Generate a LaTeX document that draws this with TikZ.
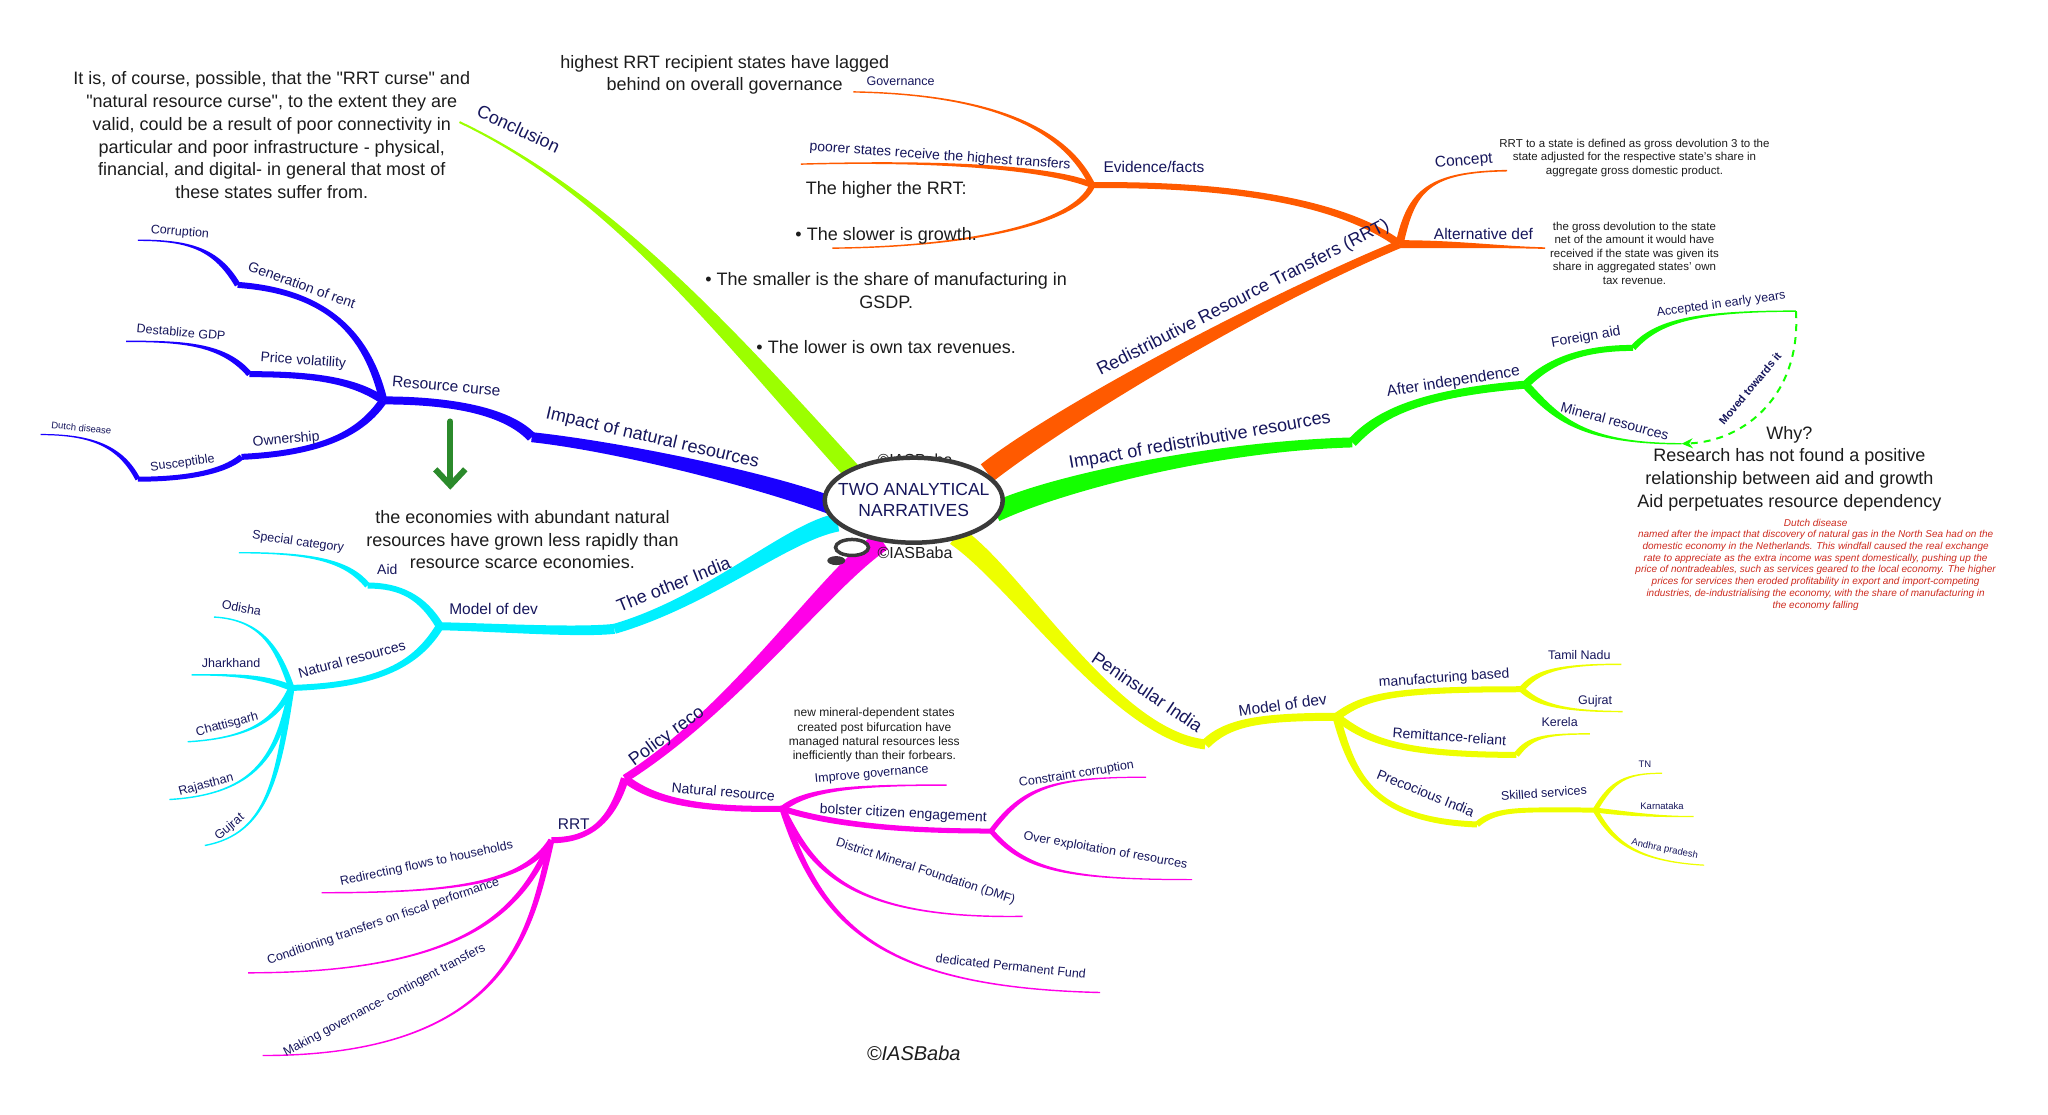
\documentclass[tikz,border=0pt]{standalone}
\usepackage{fontspec}
\setmainfont{Liberation Sans}
\usetikzlibrary{calc,arrows.meta,shapes.geometric}

\definecolor{limeb}{HTML}{9CFF00}
\definecolor{orangeb}{HTML}{FF5A00}
\definecolor{greenb}{HTML}{14FF00}
\definecolor{yellowb}{HTML}{EEFF00}
\definecolor{cyanb}{HTML}{00F0FF}
\definecolor{blueb}{HTML}{1A00FF}
\definecolor{pinkb}{HTML}{FF00E8}
\definecolor{navy}{HTML}{16165C}
\definecolor{ink}{HTML}{1C1C1C}
\definecolor{redtxt}{HTML}{CC2A1E}
\definecolor{arrowgreen}{HTML}{2B8A2B}
\definecolor{rim}{HTML}{3A3A3A}

\newcommand{\mmbranch}[7]{\fill[#1] ($(#2)!#6!90:(#3)$) .. controls ($(#3)!#6!-90:(#2)$) and ($(#4)!#7!90:(#5)$) .. ($(#5)!#7!-90:(#4)$) -- ($(#5)!#7!90:(#4)$) .. controls ($(#4)!#7!-90:(#5)$) and ($(#3)!#6!90:(#2)$) .. ($(#2)!#6!-90:(#3)$) -- cycle;}

\begin{document}
\begin{tikzpicture}[x=1.313pt,y=-1.313pt,
  lA/.style={text=navy,inner sep=1pt,font=\fontsize{18}{21}\selectfont},
  lB/.style={text=navy,inner sep=1pt,font=\fontsize{15.5}{18}\selectfont},
  lC/.style={text=navy,inner sep=1pt,font=\fontsize{14}{16}\selectfont},
  lD/.style={text=navy,inner sep=1pt,font=\fontsize{12.5}{15}\selectfont},
  lE/.style={text=navy,inner sep=1pt,font=\fontsize{9.5}{11}\selectfont},
  txt/.style={text=ink,align=center,inner sep=0pt,font=\fontsize{18}{22.7}\selectfont},
  small/.style={text=ink,align=center,inner sep=0pt,font=\fontsize{11.5}{13.5}\selectfont}]
\useasboundingbox (0,0) rectangle (1560,849);

\coordinate (cL) at (655,366);
\coordinate (concl) at (350,93);
\coordinate (cO) at (752,360);
\coordinate (rrt) at (1066,186);
\coordinate (concept) at (1148,130);
\coordinate (altdef) at (1177,189);
\coordinate (evid) at (832,141);
\coordinate (gov) at (650,70);
\coordinate (poorer) at (610,125);
\coordinate (slow) at (634,189);
\coordinate (cG) at (758,390);
\coordinate (impred) at (1030,337);
\coordinate (indep) at (1162,293);
\coordinate (faid) at (1244,265);
\coordinate (early) at (1368,237);
\coordinate (mineral) at (1281,338);
\coordinate (cY) at (728,408);
\coordinate (pen) at (918,567);
\coordinate (pmod) at (1018,546);
\coordinate (mfg) at (1159,525);
\coordinate (tn1) at (1235,506);
\coordinate (guj1) at (1236,542);
\coordinate (remit) at (1155,575);
\coordinate (kerela) at (1211,559);
\coordinate (preco) at (1125,628);
\coordinate (skill) at (1215,617);
\coordinate (tn2) at (1266,589);
\coordinate (ka) at (1290,622);
\coordinate (ap) at (1298,659);
\coordinate (cC) at (638,398);
\coordinate (oth) at (468,479);
\coordinate (cmod) at (335,477);
\coordinate (aid) at (280,446);
\coordinate (spec) at (182,421);
\coordinate (cnat) at (222,524);
\coordinate (odisha) at (163,470);
\coordinate (jhar) at (146,514);
\coordinate (chat) at (143,565);
\coordinate (raj) at (129,609);
\coordinate (guj2) at (156,644);
\coordinate (cB) at (636,386);
\coordinate (impnat) at (405,333);
\coordinate (rcurse) at (292,305);
\coordinate (genr) at (181,217);
\coordinate (corr) at (105,183);
\coordinate (pvol) at (190,285);
\coordinate (gdp) at (96,260);
\coordinate (own) at (184,348);
\coordinate (susc) at (105,365);
\coordinate (dutch) at (31,331);
\coordinate (cM) at (672,412);
\coordinate (policy) at (476,593);
\coordinate (rrtb) at (420,640);
\coordinate (redir) at (245,680);
\coordinate (cond) at (189,741);
\coordinate (making) at (200,804);
\coordinate (nres) at (596,616);
\coordinate (impg) at (721,598);
\coordinate (bolster) at (755,633);
\coordinate (constr) at (873,592);
\coordinate (overex) at (908,670);
\coordinate (dmf) at (779,698);
\coordinate (pfund) at (838,756);

\mmbranch{limeb}{cL}{560,262}{470,150}{concl}{9pt}{1pt}

\mmbranch{orangeb}{cO}{810,315}{960,230}{rrt}{10.5pt}{4pt}
\mmbranch{orangeb}{rrt}{1075,145}{1088,131}{concept}{4pt}{0.8pt}
\mmbranch{orangeb}{rrt}{1110,186}{1140,188}{altdef}{4pt}{0.8pt}
\mmbranch{orangeb}{rrt}{1030,160}{960,140}{evid}{4pt}{3pt}
\mmbranch{orangeb}{evid}{812,100}{760,72}{gov}{3pt}{0.7pt}
\mmbranch{orangeb}{evid}{800,128}{720,122}{poorer}{3pt}{0.7pt}
\mmbranch{orangeb}{evid}{820,170}{740,188}{slow}{3pt}{0.7pt}

\mmbranch{greenb}{cG}{800,370}{920,340}{impred}{10pt}{5pt}
\mmbranch{greenb}{impred}{1048,318}{1075,300}{indep}{5pt}{4pt}
\mmbranch{greenb}{indep}{1180,275}{1205,265}{faid}{4pt}{3pt}
\mmbranch{greenb}{faid}{1262,245}{1290,237}{early}{3pt}{0.7pt}
\mmbranch{greenb}{indep}{1185,318}{1205,338}{mineral}{4pt}{0.7pt}

\mmbranch{yellowb}{cY}{775,440}{850,560}{pen}{10pt}{5pt}
\mmbranch{yellowb}{pen}{935,550}{960,546}{pmod}{5pt}{4pt}
\mmbranch{yellowb}{pmod}{1040,530}{1060,525}{mfg}{4pt}{3pt}
\mmbranch{yellowb}{mfg}{1170,512}{1185,506}{tn1}{3pt}{0.7pt}
\mmbranch{yellowb}{mfg}{1170,535}{1185,542}{guj1}{3pt}{0.7pt}
\mmbranch{yellowb}{pmod}{1040,562}{1060,575}{remit}{4pt}{3pt}
\mmbranch{yellowb}{remit}{1165,562}{1175,559}{kerela}{3pt}{0.7pt}
\mmbranch{yellowb}{pmod}{1030,590}{1045,625}{preco}{4pt}{3pt}
\mmbranch{yellowb}{preco}{1140,615}{1160,617}{skill}{3pt}{2.5pt}
\mmbranch{yellowb}{skill}{1228,595}{1238,589}{tn2}{2.5pt}{0.6pt}
\mmbranch{yellowb}{skill}{1240,620}{1260,622}{ka}{2.5pt}{0.6pt}
\mmbranch{yellowb}{skill}{1228,640}{1245,656}{ap}{2.5pt}{0.6pt}

\mmbranch{cyanb}{cC}{600,405}{540,458}{oth}{9pt}{5pt}
\mmbranch{cyanb}{oth}{440,482}{380,478}{cmod}{5pt}{4pt}
\mmbranch{cyanb}{cmod}{322,455}{305,446}{aid}{4pt}{3pt}
\mmbranch{cyanb}{aid}{265,428}{240,421}{spec}{3pt}{0.7pt}
\mmbranch{cyanb}{cmod}{318,505}{290,522}{cnat}{4pt}{3pt}
\mmbranch{cyanb}{cnat}{212,495}{200,472}{odisha}{3pt}{0.7pt}
\mmbranch{cyanb}{cnat}{200,515}{180,514}{jhar}{3pt}{0.7pt}
\mmbranch{cyanb}{cnat}{212,545}{195,562}{chat}{3pt}{0.7pt}
\mmbranch{cyanb}{cnat}{212,575}{195,605}{raj}{3pt}{0.7pt}
\mmbranch{cyanb}{cnat}{212,590}{205,635}{guj2}{3pt}{0.7pt}

\mmbranch{blueb}{cB}{580,365}{470,340}{impnat}{9pt}{5pt}
\mmbranch{blueb}{impnat}{385,312}{340,305}{rcurse}{5pt}{4pt}
\mmbranch{blueb}{rcurse}{280,255}{250,222}{genr}{4pt}{3pt}
\mmbranch{blueb}{genr}{165,190}{145,183}{corr}{3pt}{0.7pt}
\mmbranch{blueb}{rcurse}{270,290}{240,285}{pvol}{4pt}{3pt}
\mmbranch{blueb}{pvol}{170,262}{140,260}{gdp}{3pt}{0.7pt}
\mmbranch{blueb}{rcurse}{275,330}{245,345}{own}{4pt}{3pt}
\mmbranch{blueb}{own}{170,360}{140,365}{susc}{3pt}{2.5pt}
\mmbranch{blueb}{susc}{92,340}{70,331}{dutch}{2.5pt}{0.6pt}

\mmbranch{pinkb}{cM}{630,440}{560,540}{policy}{10pt}{4pt}
\mmbranch{pinkb}{policy}{466,625}{450,640}{rrtb}{4pt}{3pt}
\mmbranch{pinkb}{rrtb}{400,672}{350,680}{redir}{3pt}{0.7pt}
\mmbranch{pinkb}{rrtb}{398,690}{360,741}{cond}{3pt}{0.7pt}
\mmbranch{pinkb}{rrtb}{405,705}{390,804}{making}{3pt}{0.7pt}
\mmbranch{pinkb}{policy}{500,612}{540,617}{nres}{4pt}{3pt}
\mmbranch{pinkb}{nres}{615,601}{650,598}{impg}{3pt}{0.7pt}
\mmbranch{pinkb}{nres}{640,630}{700,633}{bolster}{3pt}{2.5pt}
\mmbranch{pinkb}{bolster}{780,600}{800,592}{constr}{2.5pt}{0.6pt}
\mmbranch{pinkb}{bolster}{780,662}{810,670}{overex}{2.5pt}{0.6pt}
\mmbranch{pinkb}{nres}{620,665}{650,700}{dmf}{3pt}{0.7pt}
\mmbranch{pinkb}{nres}{625,705}{670,752}{pfund}{3pt}{0.7pt}

\draw[greenb,line width=2pt,dash pattern=on 7pt off 6pt,-{Stealth[length=11pt,width=10pt]}] (early) .. controls (1372,300) and (1330,336) .. (mineral);

\coordinate (ga) at (343,321);
\coordinate (gb) at (343,373);
\draw[arrowgreen,line width=6pt,line cap=round,-{Straight Barb[length=16pt,width=30pt]}] (ga) -- (gb);

\node[text=ink,font=\fontsize{16}{19}\selectfont] (wtop) at (697,350) {©IASBaba};
\node[text=ink,font=\fontsize{16}{19}\selectfont] (wbot) at (697,421) {©IASBaba};
\node[ellipse,draw=rim,line width=4.5pt,fill=white,minimum width=178pt,minimum height=85pt,inner xsep=-16pt,inner ysep=-2pt,align=center,text=navy,font=\fontsize{17.5}{21}\selectfont] (root) at (696,381) {TWO ANALYTICAL\\NARRATIVES};
\node[ellipse,draw=rim,line width=3.5pt,fill=white,minimum width=33pt,minimum height=16pt,inner sep=0pt] (bub) at (649,417) {};
\node[ellipse,fill=rim,minimum width=18pt,minimum height=9pt,inner sep=0pt] (bdot) at (637,427) {};

\node[lA,rotate=-25] (lconcl) at (395,98) {Conclusion};
\node[lA,rotate=27] (lrrt) at (947,227) {Redistributive Resource Transfers (RRT)};
\node[lB,rotate=5] (lconcept) at (1115,123) {Concept};
\node[lB] (laltdef) at (1130,178) {Alternative def};
\node[lB] (levid) at (879,127) {Evidence/facts};
\node[lD] (lgov) at (686,62) {Governance};
\node[lC,rotate=-4] (lpoorer) at (716,119) {poorer states receive the highest transfers};
\node[lA,rotate=10] (limpred) at (914,336) {Impact of redistributive resources};
\node[lB,rotate=9] (lindep) at (1107,291) {After independence};
\node[lC,rotate=10] (lfaid) at (1208,257) {Foreign aid};
\node[lD,rotate=8] (learly) at (1311,232) {Accepted in early years};
\node[lC,rotate=-15] (lmineral) at (1230,321) {Mineral resources};
\node[text=navy,inner sep=1pt,font=\fontsize{11}{13}\selectfont\bfseries,rotate=50] (lmoved) at (1333,296) {Moved towards it};
\node[lA,rotate=-34] (lpen) at (874,527) {Peninsular India};
\node[lB,rotate=8] (lpmod) at (977,537) {Model of dev};
\node[lC,rotate=4] (lmfg) at (1100,517) {manufacturing based};
\node[lD] (ltn1) at (1203,499) {Tamil Nadu};
\node[lD] (lguj1) at (1215,534) {Gujrat};
\node[lC,rotate=-4] (lremit) at (1104,561) {Remittance-reliant};
\node[lD] (lkerela) at (1188,550) {Kerela};
\node[lC,rotate=-22] (lpreco) at (1086,604) {Precocious India};
\node[lD,rotate=4] (lskill) at (1176,604) {Skilled services};
\node[lE] (ltn2) at (1253,582) {TN};
\node[lE] (lka) at (1266,614) {Karnataka};
\node[lE,rotate=-12] (lap) at (1268,647) {Andhra pradesh};
\node[lA,rotate=22] (loth) at (513,445) {The other India};
\node[lB] (lcmod) at (376,464) {Model of dev};
\node[lC] (laid) at (295,434) {Aid};
\node[lD,rotate=-8] (lspec) at (227,413) {Special category};
\node[lC,rotate=15] (lcnat) at (268,502) {Natural resources};
\node[lD,rotate=-10] (lodisha) at (184,463) {Odisha};
\node[lD] (ljhar) at (176,505) {Jharkhand};
\node[lD,rotate=15] (lchat) at (173,552) {Chattisgarh};
\node[lD,rotate=15] (lraj) at (157,598) {Rajasthan};
\node[lD,rotate=40] (lguj2) at (175,630) {Gujrat};
\node[lA,rotate=-13] (limpnat) at (497,334) {Impact of natural resources};
\node[lB,rotate=-5] (lrcurse) at (340,294) {Resource curse};
\node[lC,rotate=-20] (lgenr) at (230,217) {Generation of rent};
\node[lD,rotate=-5] (lcorr) at (137,177) {Corruption};
\node[lC,rotate=-4] (lpvol) at (231,275) {Price volatility};
\node[lD,rotate=-5] (lgdp) at (138,253) {Destablize GDP};
\node[lC,rotate=5] (lown) at (218,335) {Ownership};
\node[lD,rotate=8] (lsusc) at (139,353) {Susceptible};
\node[lE,rotate=-6] (ldutch) at (62,326) {Dutch disease};
\node[lA,rotate=36] (lpolicy) at (508,561) {Policy reco};
\node[lB] (lrrtb) at (437,628) {RRT};
\node[lD,rotate=12] (lredir) at (325,658) {Redirecting flows to households};
\node[lD,rotate=19] (lcond) at (292,702) {Conditioning transfers on fiscal performance};
\node[lD,rotate=28] (lmaking) at (293,762) {Making governance- contingent transfers};
\node[lC,rotate=-5] (lnres) at (551,603) {Natural resource};
\node[lD,rotate=5] (limpg) at (664,590) {Improve governance};
\node[lC,rotate=-3] (lbolster) at (688,620) {bolster citizen engagement};
\node[lD,rotate=9] (lconstr) at (820,590) {Constraint corruption};
\node[lD,rotate=-10] (loverex) at (842,648) {Over exploitation of resources};
\node[lD,rotate=-18] (ldmf) at (705,664) {District Mineral Foundation (DMF)};
\node[lD,rotate=-6] (lpfund) at (770,736) {dedicated Permanent Fund};

\node[txt] (tconcl) at (207,103) {It is, of course, possible, that the \textquotedbl RRT curse\textquotedbl{} and\\ \textquotedbl natural resource curse\textquotedbl, to the extent they are\\ valid, could be a result of poor connectivity in\\ particular and poor infrastructure - physical,\\ financial, and digital- in general that most of\\ these states suffer from.};
\node[txt] (thigh) at (552,57) {highest RRT recipient states have lagged\\ behind on overall governance};
\node[txt] (tbullet) at (675,204) {The higher the RRT:\\[22.7pt] • The slower is growth.\\[22.7pt] • The smaller is the share of manufacturing in\\ GSDP.\\[22.7pt] • The lower is own tax revenues.};
\node[txt] (tecon) at (398,411) {the economies with abundant natural\\ resources have grown less rapidly than\\ resource scarce economies.};
\node[txt] (twhy) at (1363,357) {Why?\\ Research has not found a positive\\ relationship between aid and growth\\ Aid perpetuates resource dependency};
\node[small] (tconcept) at (1245,120) {RRT to a state is defined as gross devolution 3 to the\\ state adjusted for the respective state's share in\\ aggregate gross domestic product.};
\node[small] (taltdef) at (1245,193) {the gross devolution to the state\\ net of the amount it would have\\ received if the state was given its\\ share in aggregated states' own\\ tax revenue.};
\node[text=ink,align=center,inner sep=0pt,font=\fontsize{12}{14.4}\selectfont] (tmin) at (666,560) {new mineral-dependent states\\ created post bifurcation have\\ managed natural resources less\\ inefficiently than their forbears.};
\node[text=redtxt,align=center,inner sep=0pt,font=\fontsize{10}{11.7}\selectfont\itshape] (tdutch) at (1383,430) {Dutch disease\\ named after the impact that discovery of natural gas in the North Sea had on the\\ domestic economy in the Netherlands. This windfall caused the real exchange\\ rate to appreciate as the extra income was spent domestically, pushing up the\\ price of nontradeables, such as services geared to the local economy. The higher\\ prices for services then eroded profitability in export and import-competing\\ industries, de-industrialising the economy, with the share of manufacturing in\\ the economy falling};
\node[text=ink,font=\fontsize{20}{24}\selectfont\itshape] (tcopy) at (696,802) {©IASBaba};
\end{tikzpicture}
\end{document}
